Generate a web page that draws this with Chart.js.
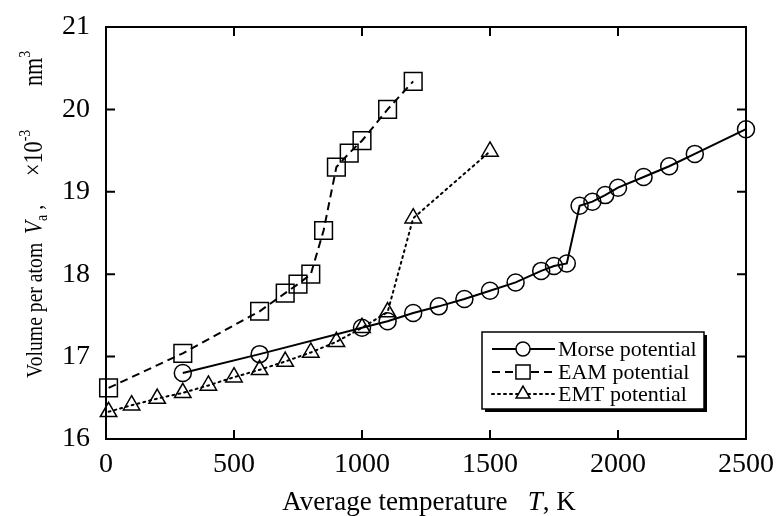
<!DOCTYPE html>
<html lang="en">
<head>
  <meta charset="UTF-8" />
  <title>Volume per atom vs temperature</title>
  <script src="https://cdn.jsdelivr.net/npm/chart.js"></script>
  <style>
    html, body { margin: 0; padding: 0; background: #fff; }
    #wrap { width: 776px; height: 516px; }
  </style>
</head>
<body>
  <div id="wrap"><canvas id="chart" width="776" height="516"></canvas></div>

  <script>
    // values
    const morseT = [300, 600, 1000, 1100, 1200, 1300, 1400, 1500, 1600, 1700, 1750, 1800, 1850, 1900, 1950, 2000, 2100, 2200, 2300, 2500];
    const morseV = [16.80, 17.03, 17.35, 17.43, 17.53, 17.61, 17.70, 17.80, 17.90, 18.04, 18.10, 18.13, 18.83, 18.88, 18.96, 19.05, 19.18, 19.31, 19.46, 19.76];

    const eamT = [10, 300, 600, 700, 750, 800, 850, 900, 950, 1000, 1100, 1200];
    const eamV = [16.62, 17.04, 17.55, 17.77, 17.88, 18.00, 18.53, 19.30, 19.47, 19.62, 20.00, 20.34];

    const emtT = [10, 100, 200, 300, 400, 500, 600, 700, 800, 900, 1000, 1100, 1200, 1500];
    const emtV = [16.33, 16.41, 16.49, 16.56, 16.65, 16.75, 16.84, 16.94, 17.05, 17.18, 17.35, 17.54, 18.68, 19.49];

    const seriesNames = ['Morse potential', 'EAM potential', 'EMT potential'];
    const xTicks = [0, 500, 1000, 1500, 2000, 2500];
    const yTicks = [16, 17, 18, 19, 20, 21];

    const SERIF = '"Liberation Serif", "Times New Roman", serif';

    function toPoints(xs, ys) {
      return xs.map((x, i) => ({ x: x, y: ys[i] }));
    }

    const styles = [
      { pointStyle: 'circle', radius: 8.5, dash: [] },
      { pointStyle: 'rect', radius: 12.5, dash: [8, 5] },
      { pointStyle: 'triangle', radius: 9.5, dash: [2, 4] }
    ];

    function makeSet(i, xs, ys) {
      return {
        label: seriesNames[i],
        data: toPoints(xs, ys),
        showLine: true,
        borderColor: '#000',
        borderWidth: 2,
        borderDash: styles[i].dash,
        borderCapStyle: i === 2 ? 'round' : 'butt',
        pointStyle: styles[i].pointStyle,
        pointRadius: styles[i].radius,
        pointBorderWidth: 1.5,
        pointBorderColor: '#000',
        pointBackgroundColor: 'rgba(0,0,0,0)',
        tension: 0,
        clip: false
      };
    }

    // draws text pieces one after the other from x0 along the baseline
    function drawRun(ctx, parts, x0, baseY) {
      let x = x0;
      parts.forEach(p => {
        ctx.font = p[0];
        ctx.fillText(p[1], x, baseY + (p[2] || 0));
        x += ctx.measureText(p[1]).width;
      });
    }

    function runWidth(ctx, parts) {
      let w = 0;
      parts.forEach(p => { ctx.font = p[0]; w += ctx.measureText(p[1]).width; });
      return w;
    }

    // frame, inward ticks, axis titles and boxed legend
    const framePlugin = {
      id: 'frame',
      afterDraw(chart) {
        const ctx = chart.ctx;
        const a = chart.chartArea;
        const xs = chart.scales.x, ys = chart.scales.y;
        ctx.save();
        ctx.strokeStyle = '#000';
        ctx.lineWidth = 2;
        ctx.setLineDash([]);
        ctx.strokeRect(a.left, a.top, a.right - a.left, a.bottom - a.top);

        const tl = 9;
        ctx.beginPath();
        xTicks.forEach(v => {
          const px = xs.getPixelForValue(v);
          ctx.moveTo(px, a.bottom); ctx.lineTo(px, a.bottom - tl);
          ctx.moveTo(px, a.top); ctx.lineTo(px, a.top + tl);
        });
        yTicks.forEach(v => {
          const py = ys.getPixelForValue(v);
          ctx.moveTo(a.left, py); ctx.lineTo(a.left + tl, py);
          ctx.moveTo(a.right, py); ctx.lineTo(a.right - tl, py);
        });
        ctx.stroke();

        ctx.fillStyle = '#000';
        ctx.textBaseline = 'alphabetic';

        // x title
        const xf = '27px ' + SERIF, xfi = 'italic 27px ' + SERIF;
        const xParts = [[xf, 'Average temperature   '], [xfi, 'T'], [xf, ', K']];
        drawRun(ctx, xParts, (a.left + a.right) / 2 - runWidth(ctx, xParts) / 2 + 3, 510);

        // y title, rotated and a little condensed like the scan
        const sq = 0.82;
        ctx.save();
        ctx.translate(42, 0);
        ctx.rotate(-Math.PI / 2);
        ctx.scale(sq, 1);
        const yf = '24px ' + SERIF, yfi = 'italic 26px ' + SERIF, big = '27px ' + SERIF, small = '17px ' + SERIF;
        drawRun(ctx, [[yf, 'Volume per atom']], -378 / sq, 0);
        drawRun(ctx, [[yfi, 'V'], [small, 'a', 5], [yf, ' ,']], -234 / sq, 0);
        drawRun(ctx, [[big, '\u00d710'], [small, '-3', -12]], -176 / sq, 0);
        drawRun(ctx, [[big, 'nm'], [small, '3', -12]], -86 / sq, 0);
        ctx.restore();

        // legend box with shadow
        const lx = 482, ly = 332, lw = 222, lh = 77;
        ctx.fillStyle = '#000';
        ctx.fillRect(lx + 3, ly + 3, lw, lh);
        ctx.fillStyle = '#fff';
        ctx.fillRect(lx, ly, lw, lh);
        ctx.lineWidth = 1.5;
        ctx.strokeRect(lx, ly, lw, lh);

        const rows = [349, 372, 394];
        chart.data.datasets.forEach((ds, i) => {
          const y = rows[i];
          ctx.lineWidth = 2;
          ctx.setLineDash(styles[i].dash);
          ctx.lineCap = i === 2 ? 'round' : 'butt';
          ctx.beginPath();
          ctx.moveTo(492, y); ctx.lineTo(555, y);
          ctx.stroke();
          ctx.setLineDash([]);
          ctx.lineWidth = 1.5;
          ctx.fillStyle = '#fff';
          const r = i === 0 ? 7 : i === 1 ? 10 : 8;
          Chart.helpers.drawPoint(ctx, { pointStyle: styles[i].pointStyle, radius: r, borderWidth: 1.5 }, 523, y);
          ctx.fillStyle = '#000';
          ctx.font = '22px ' + SERIF;
          ctx.fillText(ds.label, 558, y + 7);
        });
        ctx.restore();
      }
    };

    new Chart(document.getElementById('chart'), {
      type: 'scatter',
      data: {
        datasets: [
          makeSet(0, morseT, morseV),
          makeSet(1, eamT, eamV),
          makeSet(2, emtT, emtV)
        ]
      },
      options: {
        responsive: false,
        animation: false,
        layout: { padding: { top: 27, right: 30, left: 0, bottom: 0 } },
        plugins: { legend: { display: false }, tooltip: { enabled: false } },
        scales: {
          x: {
            type: 'linear', min: 0, max: 2500,
            afterFit: s => { s.height = 77; s.paddingLeft = 0; s.paddingRight = 0; },
            afterBuildTicks: s => { s.ticks = xTicks.map(v => ({ value: v })); },
            grid: { display: false, drawTicks: false },
            border: { display: false },
            ticks: { color: '#000', padding: 9, font: { family: SERIF, size: 28 }, callback: v => String(v) }
          },
          y: {
            type: 'linear', min: 16, max: 21,
            afterFit: s => { s.width = 106; s.paddingTop = 0; s.paddingBottom = 0; },
            afterBuildTicks: s => { s.ticks = yTicks.map(v => ({ value: v })); },
            grid: { display: false, drawTicks: false },
            border: { display: false },
            ticks: { color: '#000', padding: 16, font: { family: SERIF, size: 28 }, callback: v => String(v) }
          }
        }
      },
      plugins: [framePlugin]
    });
  </script>
</body>
</html>
